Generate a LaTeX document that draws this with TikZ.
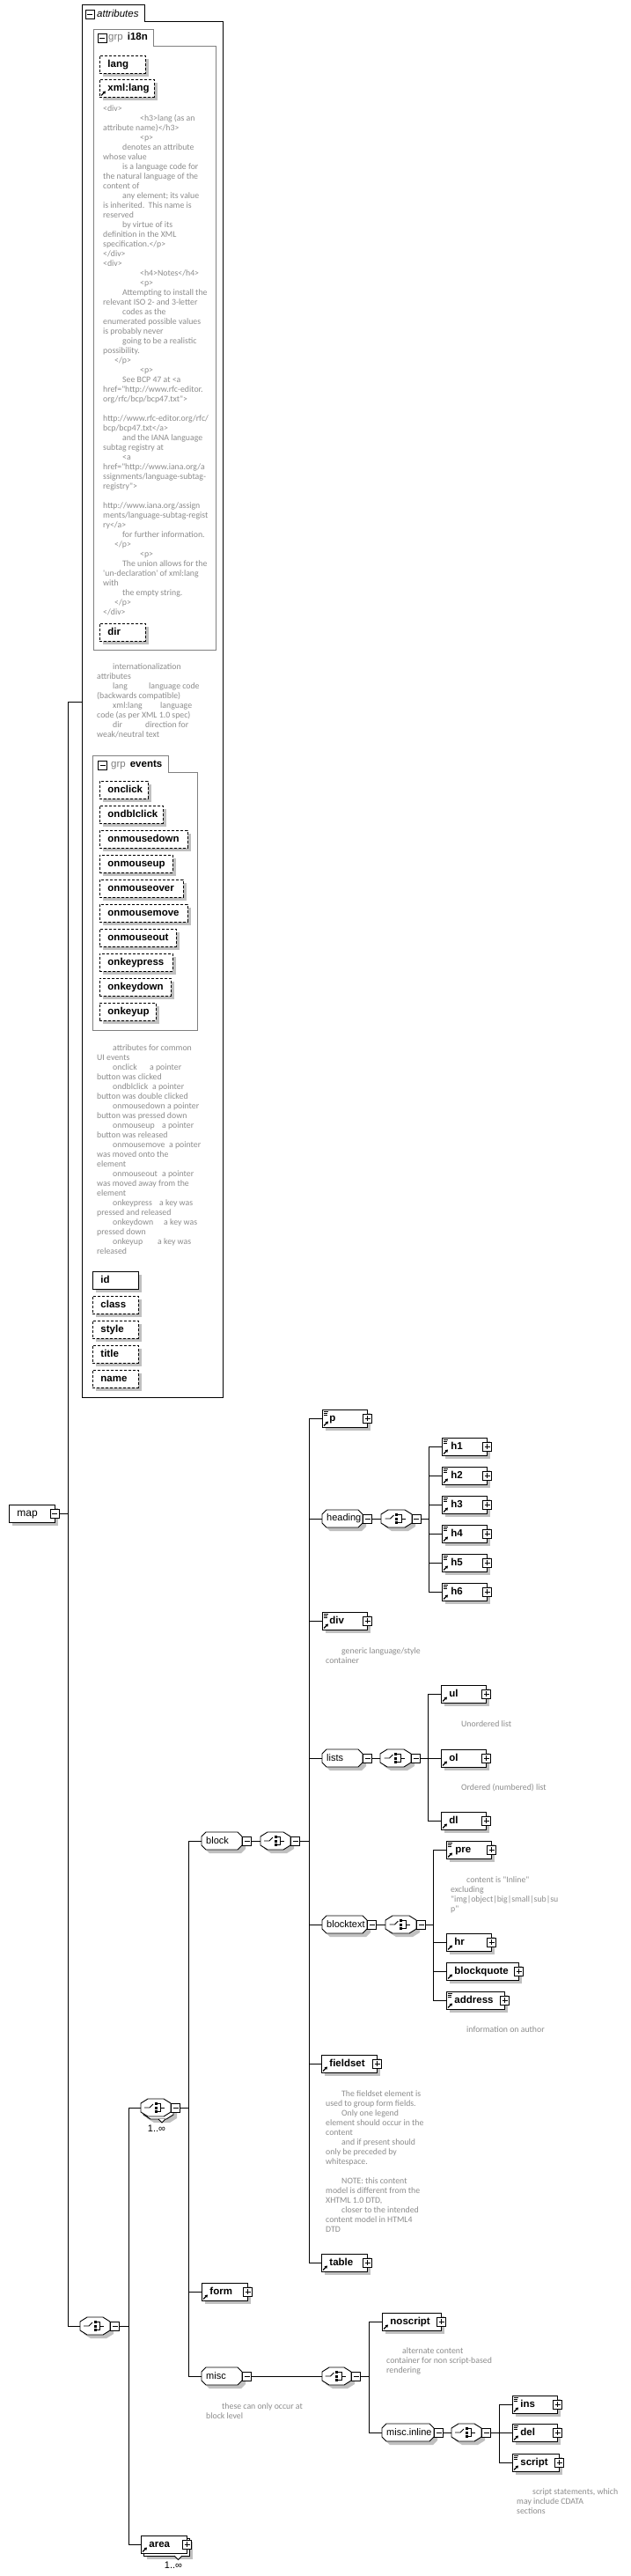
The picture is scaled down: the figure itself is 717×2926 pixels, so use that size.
\documentclass[tikz,border=0pt]{standalone}
\usepackage{fontspec}
\setmainfont{Liberation Sans}
\newfontfamily\annfont{Carlito}
\usetikzlibrary{shadows,calc,arrows.meta}
\definecolor{anngray}{RGB}{140,140,140}
\definecolor{shadegray}{RGB}{192,192,192}
\definecolor{grpgray}{RGB}{128,128,128}

\tikzset{
  conn/.style={line width=0.8pt},
  elemplain/.style={draw, line width=0.9pt, fill=white, anchor=west, minimum height=20pt, inner xsep=0pt, inner ysep=0pt, text width=#1, align=left, text height=8.5pt, text depth=2.5pt, font=\fontsize{11.5pt}{13pt}\selectfont\bfseries},
  elem/.style={elemplain=#1, general shadow={fill=shadegray, shadow xshift=4pt, shadow yshift=-4pt}},
  attr/.style={elem=#1, dash pattern=on 3pt off 2pt},
  sbox/.style={draw, fill=white, line width=0.8pt, minimum size=10pt, inner sep=0pt, general shadow={fill=black, shadow xshift=0.9pt, shadow yshift=-0.9pt}},
  mbox/.style={sbox, path picture={\draw[line width=0.8pt] ([xshift=2pt]path picture bounding box.west) -- ([xshift=-2pt]path picture bounding box.east);}},
  pbox/.style={sbox, path picture={\draw[line width=0.8pt] ([xshift=2pt]path picture bounding box.west) -- ([xshift=-2pt]path picture bounding box.east) ([yshift=-2pt]path picture bounding box.north) -- ([yshift=2pt]path picture bounding box.south);}},
  grplabel/.style={anchor=west, inner sep=0pt, font=\fontsize{11pt}{13pt}\selectfont},
  comp/.style={anchor=west, minimum width=34pt, minimum height=20pt, inner sep=0pt},
  ann/.style={anchor=north west, align=left, inner sep=0pt, text=anngray, font=\annfont\fontsize{9.8pt}{11pt}\selectfont},
  tabtext/.style={anchor=west, inner sep=0pt, font=\fontsize{11.5pt}{13pt}\selectfont},
  occ/.style={inner sep=0pt, font=\fontsize{11pt}{13pt}\selectfont},
}

\newcommand\XOctPath[6]{\path[#1,shift={#6}] (#2,#4-5) -- (#2+#5,#4-10) -- (#3-#5,#4-10) -- (#3,#4-5) -- (#3,#4+5) -- (#3-#5,#4+10) -- (#2+#5,#4+10) -- (#2,#4+5) -- cycle;}
\newcommand\XOct[4]{\XOctPath{fill=shadegray}{#1}{#2}{#3}{#4}{(4,4)}\XOctPath{draw,fill=white,line width=0.9pt}{#1}{#2}{#3}{#4}{(0,0)}}
\newcommand\choiceicon[2]{%
 \draw[line width=0.9pt] (#1-13,#2) -- (#1-7,#2) -- (#1-3,#2-4);
 \fill (#1-1.5,#2-6) rectangle (#1+1.5,#2-3);
 \fill (#1-1.5,#2-1.5) rectangle (#1+1.5,#2+1.5);
 \fill (#1-1.5,#2+3) rectangle (#1+1.5,#2+6);
 \draw[line width=0.9pt] (#1+1.5,#2-4.5) -- (#1+5.5,#2-4.5) -- (#1+5.5,#2+4.5) -- (#1+1.5,#2+4.5) (#1+5.5,#2) -- (#1+10,#2);}
\newcommand\mixicon[1]{\draw[line width=0.8pt] ($(#1.north west)+(1.5,2.5)$) -- ++(5,0) ($(#1.north west)+(1.5,4.5)$) -- ++(4,0) ($(#1.north west)+(1.5,6.5)$) -- ++(4,0);}
\newcommand\refarrow[1]{\draw[line width=1.3pt,-{Triangle[length=3pt,width=3.6pt]}] ($(#1.south west)+(2,-2)$) -- ++(5,-5);}
\newcommand\XEl[6]{\pgfmathsetmacro\XW{#3-#2}\node[elem=\XW pt] (#1) at (#2,#4) {\hspace*{#6pt}#5};\node[pbox] (#1-pl) at (#3+0.5,#4) {};\refarrow{#1}}
\newcommand\XAt[6]{\pgfmathsetmacro\XW{#3-#2}\node[#6=\XW pt] (#1) at (#2,#4) {\hspace*{9pt}#5};}
\newcommand\XGr[6]{\XOct{#2}{#3}{#5}{5}\node[grplabel] (#1) at (#2,#5) {\hspace*{5pt}#6};\node[mbox] (#1-m) at (#4,#5) {};}
\newcommand\XCo[5]{\XOct{#2}{#3}{#5}{8}\pgfmathsetmacro\XCx{(#2+#3)/2}\choiceicon{\XCx}{#5}\node[comp] (#1) at (#2,#5) {};\node[mbox] (#1-m) at (#4,#5) {};}
\newcommand\IndA{\hspace*{42pt}}
\newcommand\IndB{\hspace*{22pt}}
\newcommand\IndC{\hspace*{13pt}}
\newcommand\IndT{\hspace*{18pt}}

\begin{document}
\begin{tikzpicture}[x=1pt,y=-1pt]
\useasboundingbox (0,0) rectangle (717,2926);
\fill[white] (0,0) rectangle (717,2926);

% ---------- attributes container ----------
\draw[line width=0.9pt] (93,1587) -- (93,5) -- (164,5) -- (164,24) -- (253,24) -- (253,1587) -- cycle;
\node[mbox] (attm) at (102,16) {};
\node[tabtext, font=\fontsize{11.5pt}{13pt}\selectfont\itshape] (attt) at (110,15.5) {attributes};

% i18n group
\draw[grpgray,line width=0.9pt] (106,738) -- (106,33) -- (174,33) -- (174,52) -- (245,52) -- (245,738) -- cycle;
\node[mbox] (i18nm) at (116,43.5) {};
\node[tabtext] (i18nt) at (123,43) {\textcolor{grpgray}{grp}\hspace{5pt}\textbf{i18n}};
\XAt{lang}{113}{165}{73}{lang}{attr}
\XAt{xmllang}{113}{175}{100}{xml:lang}{attr}
\refarrow{xmllang}
\node[ann] (i18nann) at (117,118.2) {\rule{0pt}{8pt}<div>\\
\IndA<h3>lang (as an\\
attribute name)</h3>\\
\IndA<p>\\
\IndB denotes an attribute\\
whose value\\
\IndB is a language code for\\
the natural language of the\\
content of\\
\IndB any element; its value\\
is inherited.\ \ This name is\\
reserved\\
\IndB by virtue of its\\
definition in the XML\\
specification.</p>\\
</div>\\
<div>\\
\IndA<h4>Notes</h4>\\
\IndA<p>\\
\IndB Attempting to install the\\
relevant ISO 2- and 3-letter\\
\IndB codes as the\\
enumerated possible values\\
is probably never\\
\IndB going to be a realistic\\
possibility.\\
\IndC</p>\\
\IndA<p>\\
\IndB See BCP 47 at <a\\
href="http://www.rfc-editor.\\
org/rfc/bcp/bcp47.txt">\\
\mbox{}\\
http://www.rfc-editor.org/rfc/\\
bcp/bcp47.txt</a>\\
\IndB and the IANA language\\
subtag registry at\\
\IndB <a\\
href="http://www.iana.org/a\\
ssignments/language-subtag-\\
registry">\\
\mbox{}\\
http://www.iana.org/assign\\
ments/language-subtag-regist\\
ry</a>\\
\IndB for further information.\\
\IndC</p>\\
\IndA<p>\\
\IndB The union allows for the\\
'un-declaration' of xml:lang\\
with\\
\IndB the empty string.\\
\IndC</p>\\
</div>};
\XAt{dir}{113}{165}{718}{dir}{attr}

\node[ann] (i18nsum) at (110,752.2) {\rule{0pt}{8pt}\IndT internationalization\\
attributes\\
\IndT\makebox[41pt][l]{lang}language code\\
(backwards compatible)\\
\IndT\makebox[54pt][l]{xml:lang}language\\
code (as per XML 1.0 spec)\\
\IndT\makebox[37pt][l]{dir}direction for\\
weak/neutral text};

% events group
\draw[grpgray,line width=0.9pt] (105,1170) -- (105,858) -- (191,858) -- (191,877) -- (224,877) -- (224,1170) -- cycle;
\node[mbox] (evm) at (116.5,869) {};
\node[tabtext] (evt) at (126,868.5) {\textcolor{grpgray}{grp}\hspace{5pt}\textbf{events}};
\XAt{onclick}{113}{168}{897}{onclick}{attr}
\XAt{ondblclick}{113}{185}{925}{ondblclick}{attr}
\XAt{onmousedown}{113}{213}{953}{onmousedown}{attr}
\XAt{onmouseup}{113}{196}{981}{onmouseup}{attr}
\XAt{onmouseover}{113}{208}{1009}{onmouseover}{attr}
\XAt{onmousemove}{113}{213}{1037}{onmousemove}{attr}
\XAt{onmouseout}{113}{200}{1065}{onmouseout}{attr}
\XAt{onkeypress}{113}{196}{1093}{onkeypress}{attr}
\XAt{onkeydown}{113}{194}{1121}{onkeydown}{attr}
\XAt{onkeyup}{113}{177}{1149}{onkeyup}{attr}

\node[ann] (evann) at (110,1185.2) {\rule{0pt}{8pt}\IndT attributes for common\\
UI events\\
\IndT\makebox[42pt][l]{onclick}a pointer\\
button was clicked\\
\IndT\makebox[45pt][l]{ondblclick}a pointer\\
button was double clicked\\
\IndT\makebox[62pt][l]{onmousedown}a pointer\\
button was pressed down\\
\IndT\makebox[56pt][l]{onmouseup}a pointer\\
button was released\\
\IndT\makebox[64pt][l]{onmousemove}a pointer\\
was moved onto the\\
element\\
\IndT\makebox[56pt][l]{onmouseout}a pointer\\
was moved away from the\\
element\\
\IndT\makebox[53pt][l]{onkeypress}a key was\\
pressed and released\\
\IndT\makebox[58pt][l]{onkeydown}a key was\\
pressed down\\
\IndT\makebox[51pt][l]{onkeyup}a key was\\
released};

\XAt{id}{105}{157}{1454}{id}{elem}
\XAt{class}{105}{157}{1482}{class}{attr}
\XAt{style}{105}{157}{1510}{style}{attr}
\XAt{title}{105}{157}{1538}{title}{attr}
\XAt{name}{105}{157}{1566}{name}{attr}

% ---------- map ----------
\node[elem=52pt, font=\fontsize{12pt}{13pt}\selectfont] (map) at (10,1719) {\hspace*{9pt}map};
\node[mbox] (mapm) at (62,1719.5) {};

% root compositor
\XCo{rootc}{91}{125}{130.5}{2642}

% 1..inf compositor (stacked)
\XOctPath{fill=shadegray}{160}{194}{2394}{8}{(7,7)}
\XOctPath{draw,fill=white,line width=0.9pt}{160}{194}{2394}{8}{(3,3)}
\filldraw[fill=white,line width=0.8pt] (180,2407) -- (184,2411) -- (188,2407);
\XOctPath{draw,fill=white,line width=0.9pt}{160}{194}{2394}{8}{(0,0)}
\choiceicon{177}{2394}
\node[comp] (c1) at (160,2394) {};
\node[mbox] (c1-m) at (199.5,2394) {};
\node[occ] (c1occ) at (178,2418) {1..∞};

% area (stacked)
\fill[shadegray] (167,2887) rectangle (219,2907);
\filldraw[fill=white,line width=0.9pt] (163,2883) rectangle (215,2903);
\filldraw[fill=white,line width=0.8pt] (198,2903) -- (202.5,2907.5) -- (207,2903);
\node[elemplain=52pt] (area) at (160,2890) {\hspace*{9pt}area};
\node[pbox] (area-pl) at (212.5,2890) {};
\refarrow{area}
\node[occ] (areaocc) at (197,2914) {1..∞};

% groups and compositors
\XGr{block}{229}{275}{280.5}{2091}{block}
\XCo{bseq}{296}{330}{335.5}{2091}
\XGr{heading}{366}{412}{417.5}{1725}{heading}
\XCo{hseq}{433}{468}{473}{1725}
\XGr{lists}{366}{412}{417.5}{1997}{lists}
\XCo{lseq}{432}{467}{472.5}{1997}
\XGr{blocktext}{366}{417}{422.5}{2186}{blocktext}
\XCo{btseq}{438}{473}{478.5}{2186}
\XGr{misc}{229}{275}{280.5}{2699}{misc}
\XCo{mseq}{366}{399}{404.5}{2699}
\XGr{miscinline}{434}{493}{498.5}{2763}{misc.inline}
\XCo{miseq}{513}{547}{552.5}{2763}

% elements
\XEl{p}{366}{417}{1611}{p}{8}\mixicon{p}
\XEl{h1}{502}{553}{1643}{h1}{10}\mixicon{h1}
\XEl{h2}{502}{553}{1676}{h2}{10}\mixicon{h2}
\XEl{h3}{502}{553}{1709}{h3}{10}\mixicon{h3}
\XEl{h4}{502}{553}{1742}{h4}{10}\mixicon{h4}
\XEl{h5}{502}{553}{1775}{h5}{10}\mixicon{h5}
\XEl{h6}{502}{553}{1808}{h6}{10}\mixicon{h6}
\XEl{div}{366}{417}{1841}{div}{8}\mixicon{div}
\XEl{ul}{501}{552}{1924}{ul}{9}
\XEl{ol}{501}{552}{1997}{ol}{9}
\XEl{dl}{501}{552}{2068}{dl}{9}
\XEl{pre}{507}{558}{2101}{pre}{10}\mixicon{pre}
\XEl{hr}{507}{558}{2206}{hr}{9}
\XEl{blockquote}{507}{589}{2239}{blockquote}{9}
\XEl{address}{507}{573}{2272}{address}{9}\mixicon{address}
\XEl{fieldset}{365}{428}{2344}{fieldset}{9}
\XEl{table}{365}{417}{2570}{table}{9}
\XEl{form}{229}{281}{2603}{form}{9}
\XEl{noscript}{434}{501}{2637}{noscript}{9}
\XEl{ins}{582}{633}{2731}{ins}{9}\mixicon{ins}
\XEl{del}{582}{633}{2763}{del}{9}\mixicon{del}
\XEl{script}{582}{635}{2797}{script}{9}\mixicon{script}

% annotations
\node[ann] (divann) at (370,1870.2) {\rule{0pt}{8pt}\IndT generic language/style\\container};
\node[ann] (ulann) at (506,1953.2) {\rule{0pt}{8pt}\IndT Unordered list};
\node[ann] (olann) at (506,2025.2) {\rule{0pt}{8pt}\IndT Ordered (numbered) list};
\node[ann] (preann) at (512,2130.2) {\rule{0pt}{8pt}\IndT content is "Inline"\\excluding\\"img|object|big|small|sub|su\\p"};
\node[ann] (addrann) at (512,2300.2) {\rule{0pt}{8pt}\IndT information on author};
\node[ann] (fsann) at (370,2373.2) {\rule{0pt}{8pt}\IndT The fieldset element is\\
used to group form fields.\\
\IndT Only one legend\\
element should occur in the\\
content\\
\IndT and if present should\\
only be preceded by\\
whitespace.\\
\mbox{}\\
\IndT NOTE: this content\\
model is different from the\\
XHTML 1.0 DTD,\\
\IndT closer to the intended\\
content model in HTML4\\
DTD};
\node[ann] (nsann) at (439,2665.2) {\rule{0pt}{8pt}\IndT alternate content\\container for non script-based\\rendering};
\node[ann] (miscann) at (234,2728.2) {\rule{0pt}{8pt}\IndT these can only occur at\\block level};
\node[ann] (scrann) at (587,2825.2) {\rule{0pt}{8pt}\IndT script statements, which\\may include CDATA\\sections};

% ---------- connectors ----------
\coordinate (t0) at (77,1719.5);
\coordinate (attrW) at (93,797);
\draw[conn] (mapm.east) -- (t0);
\draw[conn] (t0) |- (attrW);
\draw[conn] (t0) |- (rootc.west);
\coordinate (t1) at (146,2642);
\draw[conn] (rootc-m.east) -- (t1);
\draw[conn] (t1) |- (c1.west);
\draw[conn] (t1) |- (area.west);
\coordinate (t2) at (214,2394);
\draw[conn] (c1-m.east) -- (t2);
\foreach \n in {block,form,misc} \draw[conn] (t2) |- (\n.west);
\draw[conn] (block-m.east) -- (bseq.west);
\coordinate (t3) at (351,2091);
\draw[conn] (bseq-m.east) -- (t3);
\foreach \n in {p,heading,div,lists,blocktext,fieldset,table} \draw[conn] (t3) |- (\n.west);
\draw[conn] (heading-m.east) -- (hseq.west);
\coordinate (t4) at (487,1725);
\draw[conn] (hseq-m.east) -- (t4);
\foreach \n in {h1,h2,h3,h4,h5,h6} \draw[conn] (t4) |- (\n.west);
\draw[conn] (lists-m.east) -- (lseq.west);
\coordinate (t5) at (486,1997);
\draw[conn] (lseq-m.east) -- (t5);
\foreach \n in {ul,ol,dl} \draw[conn] (t5) |- (\n.west);
\draw[conn] (blocktext-m.east) -- (btseq.west);
\coordinate (t6) at (492,2186);
\draw[conn] (btseq-m.east) -- (t6);
\foreach \n in {pre,hr,blockquote,address} \draw[conn] (t6) |- (\n.west);
\draw[conn] (misc-m.east) -- (mseq.west);
\coordinate (t7) at (419,2699);
\draw[conn] (mseq-m.east) -- (t7);
\foreach \n in {noscript,miscinline} \draw[conn] (t7) |- (\n.west);
\draw[conn] (miscinline-m.east) -- (miseq.west);
\coordinate (t8) at (567,2763);
\draw[conn] (miseq-m.east) -- (t8);
\foreach \n in {ins,del,script} \draw[conn] (t8) |- (\n.west);
\end{tikzpicture}
\end{document}
